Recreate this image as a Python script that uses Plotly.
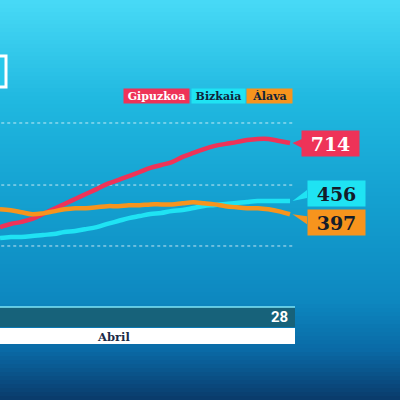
import plotly.graph_objects as go

days = list(range(1, 29))
gipuzkoa = [340, 354, 363, 376, 398, 420, 443, 465, 487, 509, 532, 549, 567, 585,
            603, 616, 629, 652, 670, 687, 701, 710, 718, 727, 732, 732, 723, 714]
bizkaia = [291, 296, 296, 300, 305, 309, 318, 323, 331, 340, 354, 367, 380, 389,
           398, 403, 412, 416, 425, 434, 438, 443, 447, 452, 456, 456, 456, 456]
alava = [419, 415, 406, 397, 401, 410, 419, 424, 424, 428, 433, 433, 437, 437,
         441, 441, 441, 446, 450, 446, 441, 433, 428, 424, 424, 419, 410, 397]
series_names = ["Gipuzkoa", "Bizkaia", "Álava"]
series_colors = ["#ee3358", "#1fe3f3", "#f7941d"]
gridline_values = [256, 527, 803]
day_label = "28"
month_label = "Abril"

W, H = 400, 400
PX_PER_DAY = 290 / 27
VAL_PER_PX = 4.448
fig = go.Figure()

# background gradient
stops = [(0, (72, 218, 246)), (100, (32, 184, 224)), (200, (20, 160, 208)),
         (300, (13, 136, 192)), (350, (10, 106, 166)), (400, (10, 58, 106))]
def col(y):
    for (y0, c0), (y1, c1) in zip(stops[:-1], stops[1:]):
        if y0 <= y <= y1:
            t = (y - y0) / (y1 - y0)
            return "rgb(%d,%d,%d)" % tuple(round(a + (b - a) * t) for a, b in zip(c0, c1))
    return "rgb(%d,%d,%d)" % stops[-1][1]
shapes = []
step = 4
for y in range(0, H, step):
    shapes.append(dict(type="rect", xref="paper", yref="paper", x0=0, x1=1,
                       y0=1 - (y + step) / H, y1=1 - y / H, fillcolor=col(y + step / 2),
                       line=dict(width=0), layer="below"))

# dotted gridlines
for gv in gridline_values:
    shapes.append(dict(type="line", xref="x", yref="y", x0=0, x1=28.3, y0=gv, y1=gv,
                       line=dict(color="rgba(255,255,255,0.75)", width=1, dash="dot"), layer="below"))

# top-left white box fragment
shapes.append(dict(type="rect", xref="paper", yref="paper", x0=-0.02, x1=6 / W,
                   y0=1 - 87 / H, y1=1 - 56 / H, line=dict(color="white", width=3),
                   fillcolor="rgba(40,200,235,1)"))

# bottom bars
shapes.append(dict(type="rect", xref="paper", yref="paper", x0=0, x1=295 / W,
                   y0=1 - 327 / H, y1=1 - 307 / H, fillcolor="#17627a",
                   line=dict(width=0)))
shapes.append(dict(type="line", xref="paper", yref="paper", x0=0, x1=295 / W,
                   y0=1 - 307 / H, y1=1 - 307 / H, line=dict(color="#7fe6f7", width=1.5)))
shapes.append(dict(type="rect", xref="paper", yref="paper", x0=0, x1=295 / W,
                   y0=1 - 344 / H, y1=1 - 328 / H, fillcolor="white",
                   line=dict(width=0)))

for name, vals, c in zip(series_names, [gipuzkoa, bizkaia, alava], series_colors):
    fig.add_trace(go.Scatter(x=days, y=vals, mode="lines", name=name,
                             line=dict(color=c, width=4.5, shape="spline"),
                             hoverinfo="skip"))

# callout boxes: (xshift, yshift) of the box centre from the last point, in px
box_shift = [(40.5, 0), (46, 8), (46, -8)]
# wedge attach points on box edge (px, relative to last point; up = positive)
wedge_attach = [(12, 4, -5), (17, 11, 3), (17, -2, -10)]
text_colors = ["white", "#141c2a", "#141c2a"]
annotations = []
for vals, c, (sx, sy), (wx, wa, wb), tc in zip([gipuzkoa, bizkaia, alava], series_colors,
                                                box_shift, wedge_attach, text_colors):
    x_end, y_end = days[-1], vals[-1]
    wx_d = [x_end + 2.5 / PX_PER_DAY, x_end + wx / PX_PER_DAY, x_end + wx / PX_PER_DAY,
            x_end + 2.5 / PX_PER_DAY]
    wy_d = [y_end, y_end + wa * VAL_PER_PX, y_end + wb * VAL_PER_PX, y_end]
    fig.add_trace(go.Scatter(x=wx_d, y=wy_d, mode="lines", fill="toself", fillcolor=c,
                             line=dict(width=0, color=c), hoverinfo="skip"))
    annotations.append(dict(x=x_end, y=y_end, xref="x", yref="y",
                            text="<b>%s</b>" % y_end, showarrow=False,
                            xshift=sx, yshift=sy,
                            font=dict(family="DejaVu Serif", size=19, color=tc),
                            bgcolor=c, width=55, height=23, borderpad=1))

# legend chips
legend_pos = [(156.5, "white"), (218.5, "#10233a"), (269.5, "#10233a")]
legend_w = [65, 53, 45]
for (cx, tc), w, name, c in zip(legend_pos, legend_w, series_names, series_colors):
    annotations.append(dict(xref="paper", yref="paper", x=cx / W, y=1 - 95.5 / H,
                            text="<b>%s</b>" % name, showarrow=False,
                            font=dict(family="DejaVu Serif", size=11, color=tc),
                            bgcolor=c, width=w - 2, height=12, borderpad=1,
                            xanchor="center", yanchor="middle"))

annotations.append(dict(xref="paper", yref="paper", x=290 / W, y=1 - 317 / H,
                        text="<b>%s</b>" % day_label, showarrow=False,
                        font=dict(family="Roboto", size=15, color="white"),
                        xanchor="right", yanchor="middle"))
annotations.append(dict(xref="paper", yref="paper", x=114 / W, y=1 - 336.5 / H,
                        text="<b>%s</b>" % month_label, showarrow=False,
                        font=dict(family="DejaVu Serif", size=11.5, color="#1c2c48"),
                        xanchor="center", yanchor="middle"))

fig.update_layout(
    width=W, height=H, margin=dict(l=0, r=0, t=0, b=0),
    paper_bgcolor="#139fd0", plot_bgcolor="rgba(0,0,0,0)",
    showlegend=False, shapes=shapes, annotations=annotations,
    xaxis=dict(range=[1, 1 + W / PX_PER_DAY], visible=False, fixedrange=True),
    yaxis=dict(range=[714 - 257 * VAL_PER_PX, 714 + 143 * VAL_PER_PX], visible=False,
               fixedrange=True),
)
fig.write_html("out.html", config={"displayModeBar": False},
               post_script="document.body.style.margin='0';document.body.style.overflow='hidden';")
